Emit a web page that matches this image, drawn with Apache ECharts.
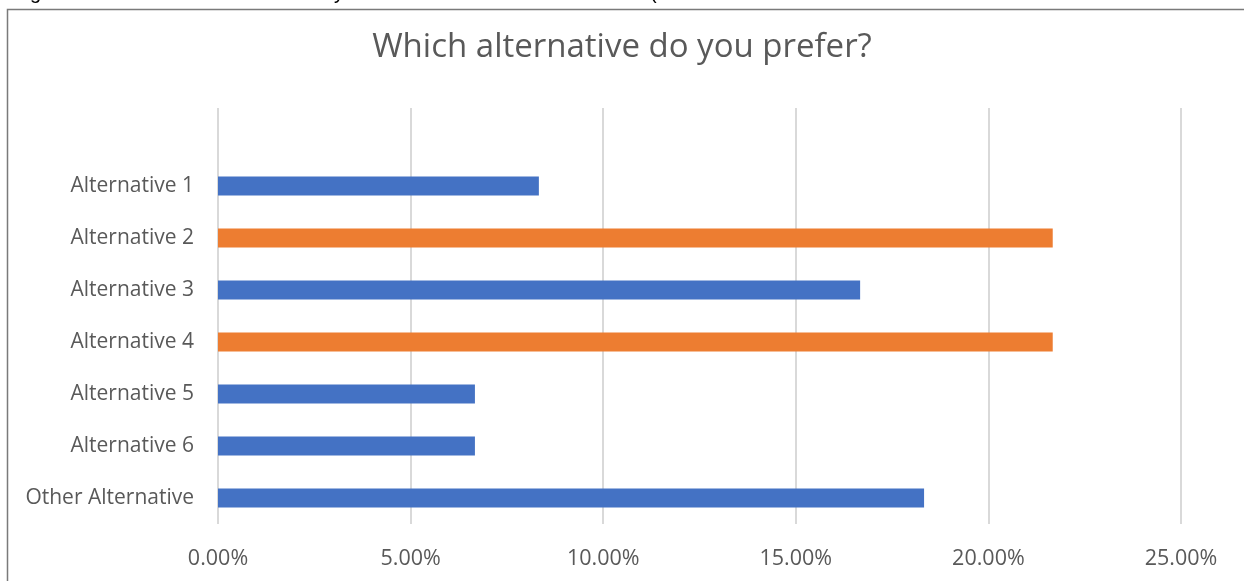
<!DOCTYPE html>
<html>
<head>
<meta charset="utf-8">
<style>
html,body{margin:0;padding:0;background:#fff;}
#chart{width:1244px;height:581px;}
</style>
<script src="https://cdn.jsdelivr.net/npm/echarts@6/dist/echarts.min.js"></script>
</head>
<body>
<div id="chart"></div>
<script>
var titleText = 'Which alternative do you prefer?';
var categories = ['', 'Alternative 1', 'Alternative 2', 'Alternative 3', 'Alternative 4', 'Alternative 5', 'Alternative 6', 'Other Alternative'];
var shares = [null, 8.33, 21.67, 16.67, 21.67, 6.67, 6.67, 18.33];
var xTicks = [0, 5, 10, 15, 20, 25];
var highlighted = ['Alternative 2', 'Alternative 4'];

var BLUE = '#4472C4', ORANGE = '#ED7D31';
var FONT = '"Open Sans"';

var chart = echarts.init(document.getElementById('chart'));
chart.setOption({
  animation: false,
  backgroundColor: '#fff',
  title: {
    text: titleText, left: 'center', top: 26,
    textStyle: {fontFamily: FONT, fontSize: 33, fontWeight: 'normal', color: '#595959'}
  },
  graphic: [
    {type: 'rect', shape: {x: 7.5, y: 9.5, width: 1260, height: 600}, style: {fill: 'none', stroke: '#7a7a7a', lineWidth: 1.5}, z: 0},
    {type: 'text', x: 30, y: -17, style: {text: 'g', font: '20px "Liberation Sans"', fill: '#000'}},
    {type: 'text', x: 334, y: -17, style: {text: 'y', font: '20px "Liberation Sans"', fill: '#000'}},
    {type: 'text', x: 650, y: -17, style: {text: '(', font: '20px "Liberation Sans"', fill: '#000'}}
  ],
  grid: {left: 218, right: 63, top: 108, bottom: 57, containLabel: false},
  xAxis: {
    type: 'value', min: xTicks[0], max: xTicks[xTicks.length - 1], interval: xTicks[1] - xTicks[0],
    axisLine: {show: false}, axisTick: {show: false},
    splitLine: {show: true, lineStyle: {color: '#d9d9d9', width: 2}},
    axisLabel: {margin: 24, fontFamily: FONT, fontSize: 21.5, color: '#595959',
      formatter: function (v) { return v.toFixed(2) + '%'; }}
  },
  yAxis: {
    type: 'category', data: categories, inverse: true,
    axisLine: {show: false}, axisTick: {show: false},
    axisLabel: {margin: 24, fontFamily: FONT, fontSize: 21, color: '#595959'}
  },
  series: [{
    type: 'bar', barWidth: 19,
    data: shares.map(function (v, i) {
      return {value: v, itemStyle: {color: highlighted.indexOf(categories[i]) >= 0 ? ORANGE : BLUE}};
    })
  }]
});
</script>
</body>
</html>
